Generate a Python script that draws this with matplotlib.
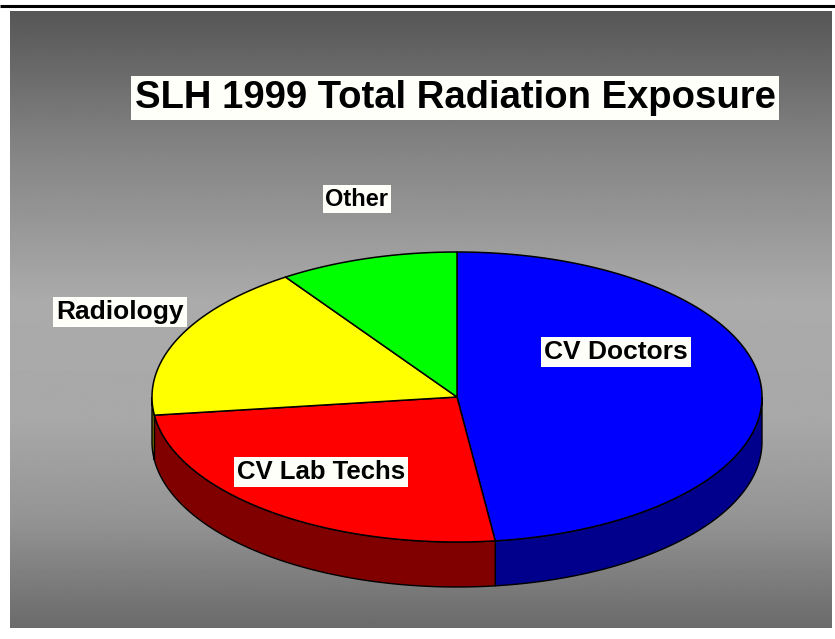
import numpy as np
import matplotlib
matplotlib.use("Agg")
import matplotlib.pyplot as plt
from matplotlib.patches import Polygon

# ---- data ----
title = "SLH 1999 Total Radiation Exposure"
categories = ["CV Doctors", "CV Lab Techs", "Radiology", "Other"]
values = [48.0, 25.0, 17.5, 9.5]
top_colors = ["#0000ff", "#ff0000", "#ffff00", "#00ff00"]
side_colors = ["#00008c", "#800000", "#808000", "#008000"]

# ---- layout (pixel space) ----
W, H = 835, 639
fig = plt.figure(figsize=(W / 100, H / 100), dpi=100)
ax = fig.add_axes([0, 0, 1, 1])
ax.set_xlim(0, W)
ax.set_ylim(H, 0)
ax.axis("off")

# background gradient panel
py0, py1 = 11, 628
ys = np.linspace(py0, py1, 300)
stops_y = [11, 150, 300, 420, 520, 628]
stops_v = [0.34, 0.52, 0.67, 0.66, 0.58, 0.42]
grad = np.interp(ys, stops_y, stops_v)[:, None]
ax.imshow(grad, extent=[10, 832, py1, py0], cmap="gray", vmin=0, vmax=1,
          aspect="auto", interpolation="bilinear", zorder=0)

# top rule
ax.plot([0, W], [5.5, 5.5], color="black", lw=2.2, zorder=1, solid_capstyle="butt")

# ---- 3D pie ----
cx, cy, a, b, depth = 457, 397, 305, 145, 45

def pt(t):
    t = np.radians(t)
    return cx + a * np.cos(t), cy - b * np.sin(t)

start = 90.0
spans = []
for v in values:
    end = start - 360.0 * v / sum(values)
    spans.append((start, end))
    start = end

# side walls (front half: angles between -180 and 0)
for (t0, t1), sc in zip(spans, side_colors):
    lo, hi = min(t0, t1), max(t0, t1)
    # normalise into range containing front half
    for shift in (0, -360, 360):
        l, h = lo + shift, hi + shift
        s0, s1 = max(l, -180), min(h, 0)
        if s1 > s0:
            ts = np.linspace(s0, s1, 80)
            xs, yt = pt(ts)
            top = np.column_stack([xs, yt])
            bot = np.column_stack([xs[::-1], yt[::-1] + depth])
            poly = Polygon(np.vstack([top, bot]), closed=True, facecolor=sc,
                           edgecolor="black", lw=1.0, zorder=2)
            ax.add_patch(poly)

# top faces
for (t0, t1), c in zip(spans, top_colors):
    ts = np.linspace(t0, t1, 200)
    xs, yt = pt(ts)
    verts = np.vstack([[cx, cy], np.column_stack([xs, yt])])
    ax.add_patch(Polygon(verts, closed=True, facecolor=c, edgecolor="black",
                         lw=1.1, joinstyle="round", zorder=3))

# ---- text ----
box = dict(boxstyle="square,pad=0.12", facecolor="#fffffa", edgecolor="none")
ax.text(455, 98, title, fontsize=27.5, fontweight="bold", family="Liberation Sans",
        ha="center", va="center", color="black", zorder=5,
        bbox=dict(boxstyle="square,pad=0.1", facecolor="#fffffa", edgecolor="none"))

label_pos = [(616, 352), (321, 472), (120, 312), (357, 199)]
label_size = [19, 18.5, 19, 17]
for name, (lx, ly), fs in zip(categories, label_pos, label_size):
    ax.text(lx, ly, name, fontsize=fs, fontweight="bold", family="Liberation Sans",
            ha="center", va="center", color="black", zorder=5, bbox=box)

fig.savefig("out.png", dpi=100, facecolor="white")
